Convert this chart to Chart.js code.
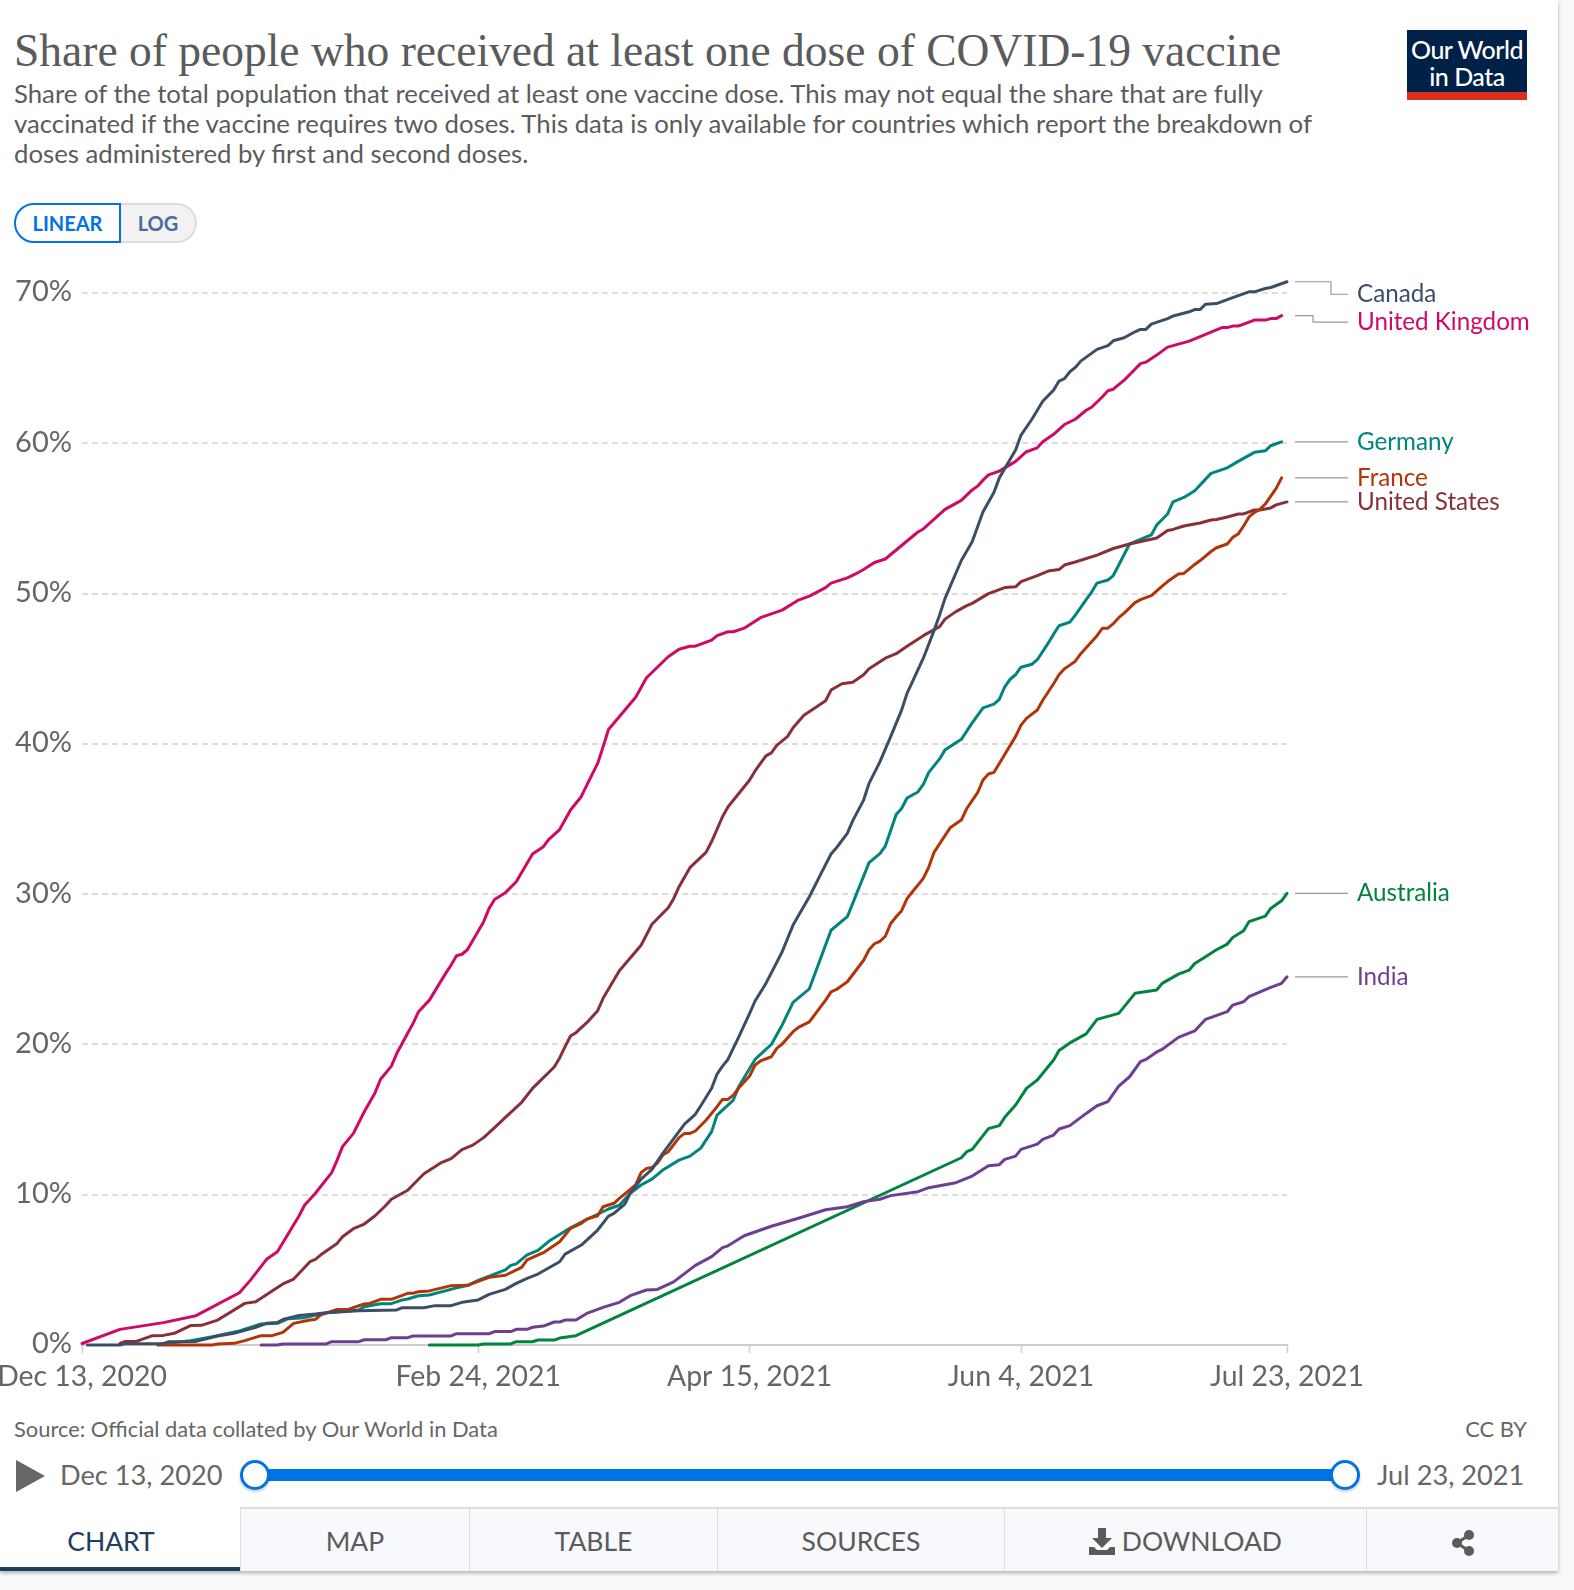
<!DOCTYPE html>
<html>
<head>
<meta charset="utf-8">
<title>COVID-19 vaccine</title>
<script src="https://cdn.jsdelivr.net/npm/chart.js@4"></script>
<style>
  html, body { margin: 0; padding: 0; background: #f9f9f9; }
  body { width: 1574px; height: 1590px; position: relative; overflow: hidden; font-family: Lato, sans-serif; color: #5b5b5b; }
  #card { position: absolute; left: 0; top: 0; width: 1558px; height: 1571px; background: #fff; box-shadow: 0 2px 4px rgba(0,0,0,.3); }
  .abs { position: absolute; white-space: nowrap; }
  #title { left: 14px; top: 24px; font: 45.5px/54px "Liberation Serif", serif; color: #5b5b5b; }
  .sub { left: 14px; font-size: 25.75px; line-height: 30px; color: #5b5b5b; }
  #logo { left: 1407px; top: 30px; width: 120px; height: 56px; background: #002147; border-bottom: 8px solid #dc2e1c; color: #fff; text-align: center; font-size: 25px; font-weight: 500; line-height: 27px; letter-spacing: -.5px; padding-top: 6px; }
  #linear { left: 14px; top: 203px; width: 107px; height: 40px; box-sizing: border-box; border: 2px solid #0073e6; border-radius: 20px 0 0 20px; color: #0073e6; font-weight: 700; font-size: 20px; line-height: 36px; text-align: center; background: #fff; }
  #log { left: 121px; top: 203px; width: 76px; height: 40px; box-sizing: border-box; border: 2px solid #ddd; border-left: 0; border-radius: 0 20px 20px 0; color: #4c6a9c; font-weight: 700; font-size: 20px; line-height: 36px; text-align: center; background: #f2f2f2; }
  #chartCanvas { position: absolute; left: 0; top: 260px; }
  .foot { font-size: 21.9px; color: #666; line-height: 28px; top: 1415px; }
  .date { font-size: 27.2px; color: #666; line-height: 34px; top: 1458px; }
  #track { left: 255px; top: 1469px; width: 1090px; height: 12px; background: #0073e6; }
  .knob { top: 1460px; width: 30px; height: 30px; box-sizing: border-box; border: 3px solid #0073e6; border-radius: 50%; background: #fff; box-shadow: 0 2px 3px rgba(0,0,0,.2); }
  .tab { top: 1507px; height: 64px; box-sizing: border-box; background: #f7f9fc; border-top: 2px solid #ddd; border-left: 1px solid #ddd; text-align: center; font-size: 26.5px; line-height: 64px; color: #5b5b5b; }
  #tabChart { background: #fff; border: 0; border-bottom: 4px solid #1d3d63; color: #1d3d63; line-height: 68px; padding-right: 18px; }
</style>
</head>
<body>
<div id="card"></div>
<div class="abs" id="title">Share of people who received at least one dose of COVID-19 vaccine</div>
<div class="abs sub" style="top:78px">Share of the total population that received at least one vaccine dose. This may not equal the share that are fully</div>
<div class="abs sub" style="top:108px">vaccinated if the vaccine requires two doses. This data is only available for countries which report the breakdown of</div>
<div class="abs sub" style="top:138px">doses administered by first and second doses.</div>
<div class="abs" id="logo">Our World<br>in Data</div>
<div class="abs" id="linear">LINEAR</div>
<div class="abs" id="log">LOG</div>

<canvas id="chartCanvas" width="1558" height="1145"></canvas>

<div class="abs foot" style="left:14px">Source: Official data collated by Our World in Data</div>
<div class="abs foot" style="right:47px">CC BY</div>
<svg class="abs" style="left:16px;top:1460px" width="30" height="33"><path d="M0 0 L29 16 L0 32 Z" fill="#666"/></svg>
<div class="abs date" style="left:60px">Dec 13, 2020</div>
<div class="abs" id="track"></div>
<div class="abs knob" style="left:240px"></div>
<div class="abs knob" style="left:1330px"></div>
<div class="abs date" style="left:1377px">Jul 23, 2021</div>

<div class="abs tab" id="tabChart" style="left:0;width:240px">CHART</div>
<div class="abs tab" style="left:240px;width:229px">MAP</div>
<div class="abs tab" style="left:469px;width:248px">TABLE</div>
<div class="abs tab" style="left:717px;width:287px">SOURCES</div>
<div class="abs tab" style="left:1004px;width:362px">
  <svg width="26" height="27" viewBox="0 0 26 27" style="vertical-align:-4px"><path d="M9 0h8v10h6L13 20 3 10h6zM0 19h5l3 3h10l3-3h5v8H0z" fill="#5b5b5b"/></svg> DOWNLOAD</div>
<div class="abs tab" style="left:1366px;width:192px">
  <svg width="24" height="26" viewBox="0 0 24 26" style="vertical-align:-5px"><path d="M18 5 L6 13 L18 21" fill="none" stroke="#5b5b5b" stroke-width="3"/><circle cx="18" cy="5" r="5" fill="#5b5b5b"/><circle cx="6" cy="13" r="5" fill="#5b5b5b"/><circle cx="18" cy="21" r="5" fill="#5b5b5b"/></svg></div>

<script>
// days since Dec 13, 2020 and share of population in %
const canadaPoints = [[1,0],[7,0],[8,0.09],[15,0.09],[16,0.22],[21,0.24],[25,0.6],[28,0.78],[30,0.98],[32,1.18],[34,1.44],[36,1.49],[37,1.7],[40,1.97],[43,2.06],[45,2.15],[51,2.28],[58,2.33],[59,2.48],[63,2.48],[65,2.62],[68,2.62],[70,2.84],[73,3],[75,3.37],[78,3.7],[80,4.1],[82,4.44],[84,4.72],[88,5.54],[89,6.05],[92,6.65],[95,7.65],[97,8.58],[98,8.76],[100,9.38],[101,10.1],[103,11.04],[105,11.69],[107,12.75],[111,14.7],[113,15.35],[114,15.92],[116,17.08],[117,18.03],[118,18.56],[119,19],[121,20.5],[123,22.07],[124,22.89],[126,24.06],[129,26.17],[130,27.06],[131,27.94],[134,29.83],[135,30.54],[136,31.27],[138,32.67],[139,33.09],[141,34.04],[142,34.89],[144,36.26],[145,37.37],[147,38.8],[149,40.5],[151,42.25],[152,43.36],[155,45.7],[157,47.57],[158,48.57],[159,49.68],[162,52.2],[164,53.45],[165,54.45],[166,55.44],[168,56.73],[169,57.7],[172,59.55],[173,60.55],[175,61.6],[177,62.8],[179,63.54],[180,64.14],[181,64.3],[182,64.76],[183,65.05],[184,65.47],[187,66.25],[189,66.5],[190,66.82],[192,67.02],[194,67.42],[195,67.58],[196,67.58],[197,67.93],[200,68.3],[201,68.47],[204,68.75],[205,68.9],[206,68.9],[207,69.26],[209,69.3],[212,69.7],[215,70.08],[216,70.08],[218,70.3],[219,70.37],[222,70.75]];

const ukPoints = [[0,0.1],[7,1.04],[15,1.49],[21,1.95],[29,3.48],[31,4.3],[34,5.7],[36,6.2],[37,6.8],[38,7.4],[40,8.6],[41,9.3],[43,10.1],[46,11.47],[47,12.3],[48,13.2],[50,14.08],[52,15.52],[54,16.79],[55,17.68],[57,18.56],[58,19.41],[60,20.74],[61,21.4],[62,22.18],[64,22.95],[67,24.73],[68,25.28],[69,25.9],[70,26],[71,26.3],[74,28.17],[75,29.05],[76,29.65],[78,30.1],[80,30.83],[83,32.67],[85,33.16],[86,33.64],[88,34.3],[90,35.6],[92,36.5],[93,37.26],[95,38.7],[96,39.8],[97,40.96],[102,43.1],[104,44.4],[108,45.8],[110,46.3],[112,46.5],[113,46.5],[116,46.9],[117,47.2],[119,47.46],[120,47.46],[122,47.7],[125,48.4],[129,48.9],[132,49.57],[134,49.83],[137,50.4],[138,50.7],[141,51.05],[143,51.4],[144,51.6],[146,52.07],[148,52.3],[151,53.2],[153,53.8],[154,54.1],[155,54.3],[159,55.6],[162,56.2],[164,56.9],[165,57.15],[166,57.55],[167,57.9],[169,58.15],[172,58.8],[174,59.44],[176,59.7],[177,60.1],[179,60.6],[181,61.25],[183,61.6],[185,62.2],[186,62.4],[188,63.1],[189,63.5],[190,63.6],[191,63.9],[192,64.2],[195,65.3],[196,65.4],[198,65.87],[200,66.4],[204,66.8],[208,67.4],[210,67.7],[211,67.7],[212,67.8],[213,67.8],[216,68.2],[218,68.2],[219,68.3],[220,68.3],[221,68.5]];

const germanyPoints = [[14,0.02],[15,0.09],[20,0.29],[24,0.55],[29,0.93],[33,1.4],[36,1.44],[38,1.75],[41,1.82],[45,2.15],[51,2.33],[52,2.55],[55,2.75],[57,2.75],[59,3],[60,3.06],[62,3.28],[64,3.33],[69,3.8],[71,3.95],[73,4.3],[78,5],[79,5.3],[80,5.4],[82,6],[84,6.3],[86,6.9],[90,7.8],[93,8.36],[95,8.7],[97,9.05],[99,9.3],[101,10.1],[103,10.65],[105,11.04],[107,11.64],[110,12.3],[112,12.57],[114,13.1],[116,14.2],[117,15.3],[120,16.3],[121,17.2],[124,19],[127,20],[129,21.3],[131,22.8],[134,23.7],[138,27.6],[141,28.5],[145,32.1],[147,32.7],[148,33.2],[150,35.3],[151,35.7],[152,36.4],[154,36.8],[155,37.3],[156,38.1],[158,39],[159,39.6],[162,40.3],[164,41.4],[166,42.4],[168,42.65],[169,42.96],[170,43.8],[171,44.3],[172,44.6],[173,45.1],[175,45.3],[176,45.6],[178,46.7],[179,47.3],[180,47.86],[182,48.1],[183,48.57],[185,49.6],[186,50.1],[187,50.7],[189,50.9],[190,51.2],[191,51.9],[193,53.3],[195,53.6],[197,53.9],[198,54.56],[200,55.3],[201,56.1],[203,56.4],[205,56.84],[208,58],[211,58.37],[213,58.8],[215,59.2],[216,59.4],[218,59.5],[219,59.84],[221,60.1]];

const francePoints = [[14,0],[24,0],[25,0.07],[28,0.11],[30,0.29],[33,0.62],[35,0.62],[37,0.84],[39,1.44],[42,1.66],[43,1.7],[44,2],[47,2.37],[49,2.37],[52,2.73],[53,2.77],[55,3.04],[57,3.04],[60,3.44],[61,3.44],[62,3.55],[64,3.6],[68,3.95],[71,3.97],[75,4.5],[78,4.64],[81,5.17],[82,5.66],[85,6.14],[88,6.87],[90,7.76],[92,8.1],[93,8.38],[95,8.6],[96,9.2],[98,9.43],[99,9.76],[102,10.65],[103,11.47],[104,11.75],[105,11.82],[106,12.1],[107,12.64],[108,12.86],[110,13.8],[111,14.08],[112,14.08],[113,14.24],[115,14.97],[117,15.86],[118,16.34],[119,16.34],[120,16.63],[121,17.1],[123,17.9],[124,18.63],[125,18.9],[127,19.18],[128,19.74],[129,20.03],[131,20.85],[132,21.14],[134,21.5],[137,22.95],[138,23.5],[139,23.66],[141,24.17],[144,25.6],[145,26.3],[146,26.7],[147,26.86],[148,27.2],[149,28.05],[150,28.5],[151,28.9],[152,29.7],[153,30.16],[155,31.05],[156,31.8],[157,32.8],[159,33.9],[160,34.44],[162,34.93],[163,35.7],[165,36.75],[166,37.6],[167,38],[168,38.1],[169,38.7],[172,40.5],[173,41.25],[174,41.7],[176,42.25],[177,42.9],[179,44],[180,44.6],[181,45],[182,45.24],[183,45.5],[184,46],[185,46.4],[187,47.2],[188,47.7],[189,47.7],[190,48],[191,48.4],[192,48.7],[194,49.4],[195,49.6],[197,49.86],[199,50.5],[200,50.8],[202,51.3],[203,51.34],[205,51.94],[206,52.2],[208,52.8],[209,53.05],[211,53.3],[212,53.74],[213,53.96],[214,54.5],[215,55.1],[216,55.4],[217,55.6],[218,55.96],[220,57],[221,57.7]];

const usPoints = [[7,0.1],[8,0.24],[10,0.24],[13,0.62],[15,0.64],[17,0.78],[20,1.29],[22,1.31],[25,1.66],[30,2.77],[32,2.88],[37,4.06],[39,4.39],[42,5.54],[43,5.7],[44,6],[47,6.76],[48,7.2],[50,7.74],[52,8.05],[54,8.6],[56,9.3],[57,9.7],[60,10.3],[63,11.4],[66,12.1],[68,12.4],[70,13],[72,13.3],[74,13.8],[77,14.8],[78,15.15],[81,16.15],[83,17.08],[87,18.5],[88,19.1],[89,19.85],[90,20.56],[91,20.78],[93,21.45],[95,22.24],[96,23.07],[99,24.9],[103,26.6],[105,28],[108,29.1],[109,29.7],[110,30.5],[112,31.76],[115,32.8],[116,33.5],[118,35.15],[119,35.8],[123,37.6],[124,38.2],[126,39.2],[127,39.4],[128,39.9],[130,40.5],[131,41.07],[133,41.9],[137,42.87],[138,43.58],[140,44],[142,44.1],[144,44.6],[145,45],[148,45.7],[150,46],[152,46.5],[155,47.2],[158,47.8],[159,48.3],[161,48.8],[163,49.2],[164,49.35],[167,50],[170,50.4],[172,50.45],[173,50.8],[176,51.2],[178,51.5],[180,51.6],[181,51.9],[183,52.1],[187,52.56],[190,53],[191,53.1],[193,53.3],[198,53.7],[200,54.2],[201,54.27],[203,54.5],[206,54.7],[208,54.9],[209,54.93],[211,55.1],[213,55.3],[214,55.3],[216,55.56],[217,55.56],[219,55.7],[220,55.9],[222,56.1]];

const australiaPoints = [[64,0],[73,0],[74,0.07],[79,0.07],[80,0.22],[83,0.22],[84,0.33],[87,0.33],[88,0.46],[91,0.62],[162,12.46],[163,12.86],[164,13.02],[167,14.4],[169,14.6],[170,15.15],[172,15.97],[174,17.08],[176,17.63],[179,18.96],[180,19.6],[182,20.1],[185,20.7],[187,21.67],[191,22.07],[194,23.4],[198,23.62],[199,24.06],[202,24.68],[204,24.95],[205,25.39],[207,25.84],[209,26.3],[211,26.68],[212,27.12],[214,27.57],[215,28.17],[218,28.54],[219,29.05],[221,29.56],[222,30.05]];

const indiaPoints = [[33,0],[36,0],[37,0.07],[45,0.07],[46,0.22],[51,0.22],[52,0.35],[56,0.35],[57,0.49],[60,0.49],[61,0.6],[68,0.6],[69,0.75],[75,0.75],[76,0.89],[79,0.89],[80,1.04],[82,1.04],[83,1.18],[85,1.26],[87,1.53],[88,1.53],[89,1.66],[91,1.66],[93,2.1],[96,2.5],[99,2.84],[101,3.28],[104,3.66],[106,3.7],[109,4.2],[113,5.3],[116,5.88],[118,6.48],[119,6.6],[122,7.27],[127,7.9],[132,8.43],[137,9],[141,9.2],[144,9.54],[147,9.7],[149,9.94],[154,10.2],[156,10.47],[161,10.8],[164,11.24],[167,11.93],[169,12],[170,12.35],[172,12.57],[173,13.02],[176,13.37],[177,13.68],[179,13.97],[180,14.37],[182,14.6],[185,15.41],[187,15.92],[189,16.2],[191,17.23],[193,17.85],[195,18.85],[196,19],[198,19.5],[199,19.67],[202,20.47],[205,20.9],[207,21.67],[211,22.18],[212,22.62],[214,22.84],[215,23.18],[219,23.8],[221,24.06],[222,24.5]];

const xTickDays = [0, 73, 123, 173, 222];
const xTickLabels = ['Dec 13, 2020', 'Feb 24, 2021', 'Apr 15, 2021', 'Jun 4, 2021', 'Jul 23, 2021'];
const yTickValues = [0, 10, 20, 30, 40, 50, 60, 70];

const seriesNames = ['Canada', 'France', 'United States', 'United Kingdom', 'Germany', 'India', 'Australia'];
const seriesPoints = [canadaPoints, francePoints, usPoints, ukPoints, germanyPoints, indiaPoints, australiaPoints];
const seriesColors = ['#3c4e66', '#b13507', '#883039', '#cf0a66', '#00847e', '#6d3e91', '#00843f'];

// how far some end labels were pushed down so they don't collide, and where the connector bends
const labelShift = { 'Canada': 12.5, 'United Kingdom': 6.5 };
const labelElbow = { 'Canada': 1331, 'United Kingdom': 1313 };

const endLabels = {
  id: 'endLabels',
  afterDatasetsDraw(chart) {
    const { ctx, scales } = chart;
    ctx.save();
    ctx.font = '24.2px Lato';
    ctx.textBaseline = 'middle';
    chart.data.datasets.forEach(ds => {
      const last = ds.data[ds.data.length - 1];
      const y0 = scales.y.getPixelForValue(last.y);
      const y1 = y0 + (labelShift[ds.label] || 0);
      const elbow = labelElbow[ds.label] || 1320;
      ctx.strokeStyle = '#999';
      ctx.lineWidth = 1.2;
      ctx.beginPath();
      ctx.moveTo(1295, y0);
      ctx.lineTo(elbow, y0);
      ctx.lineTo(elbow, y1);
      ctx.lineTo(1348, y1);
      ctx.stroke();
      ctx.fillStyle = ds.borderColor;
      ctx.fillText(ds.label, 1357, y1);
    });
    ctx.restore();
  }
};

new Chart(document.getElementById('chartCanvas'), {
  type: 'line',
  plugins: [endLabels],
  data: {
    datasets: seriesNames.map((name, i) => ({
      label: name,
      data: seriesPoints[i].map(p => ({ x: p[0], y: p[1] })),
      borderColor: seriesColors[i],
      borderWidth: 3,
      borderCapStyle: 'round',
      borderJoinStyle: 'round',
      pointRadius: 0,
      tension: 0,
      clip: false
    }))
  },
  options: {
    responsive: false,
    animation: false,
    layout: { padding: { top: 18, right: 271, left: 0, bottom: 0 } },
    plugins: { legend: { display: false }, tooltip: { enabled: false } },
    scales: {
      x: {
        type: 'linear',
        min: 0,
        max: 222,
        afterBuildTicks: s => { s.ticks = xTickDays.map(v => ({ value: v })); },
        afterFit: s => { s.height = 60; s.paddingLeft = 0; s.paddingRight = 0; },
        border: { color: '#ccc', width: 2 },
        grid: { drawOnChartArea: false, drawTicks: true, tickLength: 8, color: '#ccc', tickWidth: 1.5 },
        ticks: {
          autoSkip: false,
          maxRotation: 0,
          padding: 7,
          color: '#666',
          font: { family: 'Lato', size: 28.4 },
          callback: (v, i) => xTickLabels[i]
        }
      },
      y: {
        min: 0,
        max: 71,
        afterBuildTicks: s => { s.ticks = yTickValues.map(v => ({ value: v })); },
        afterFit: s => { s.width = 82; s.paddingTop = 0; s.paddingBottom = 0; },
        border: { display: false, dash: [6, 4] },
        grid: {
          drawTicks: false,
          lineWidth: 2,
          color: c => (c.tick && c.tick.value === 0) ? 'rgba(0,0,0,0)' : '#ddd'
        },
        ticks: {
          padding: 10,
          labelOffset: -1,
          color: '#666',
          font: { family: 'Lato', size: 29 },
          callback: v => v + '%'
        }
      }
    }
  }
});
</script>
</body>
</html>
